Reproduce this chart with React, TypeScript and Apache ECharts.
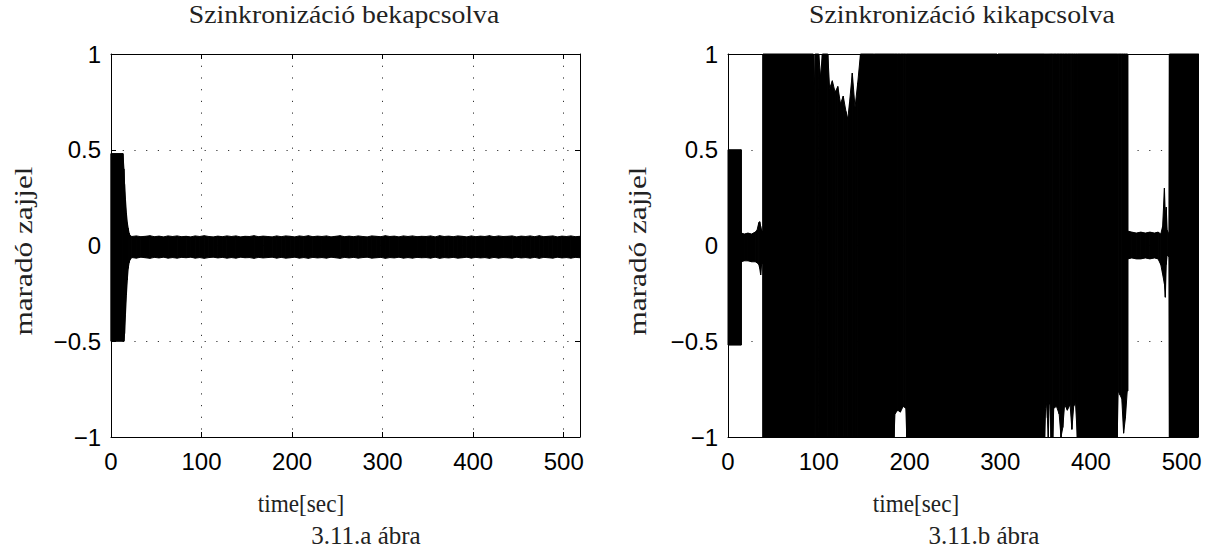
import React, { useEffect, useRef } from "react";
import * as echarts from "echarts";

// ---------- data (envelopes) ----------
const xTickValues = [0, 100, 200, 300, 400, 500];
const yTickValues = [-1, -0.5, 0, 0.5, 1];
const X_MAX = 518;

// Sync ON: time, upper and lower envelope of the residual noise
const onTime = [0, 0.3, 13.2, 14.3, 15, 16, 17, 18, 19, 20, 21,
  23, 28, 33, 38, 43, 48, 53, 58, 63, 68,
  73, 78, 83, 88, 93, 98, 103, 108, 113, 118,
  123, 128, 133, 138, 143, 148, 153, 158, 163, 168,
  173, 178, 183, 188, 193, 198, 203, 208, 213, 218,
  223, 228, 233, 238, 243, 248, 253, 258, 263, 268,
  273, 278, 283, 288, 293, 298, 303, 308, 313, 318,
  323, 328, 333, 338, 343, 348, 353, 358, 363, 368,
  373, 378, 383, 388, 393, 398, 403, 408, 413, 418,
  423, 428, 433, 438, 443, 448, 453, 458, 463, 468,
  473, 478, 483, 488, 493, 498, 503, 508, 513, 518];
const onUpper = [0.48, 0.48, 0.48, 0.4, 0.32, 0.24, 0.17, 0.12, 0.09, 0.065, 0.052,
  0.047, 0.050, 0.046, 0.048, 0.051, 0.046, 0.049, 0.045, 0.050, 0.047,
  0.050, 0.046, 0.048, 0.045, 0.050, 0.047, 0.051, 0.047, 0.045, 0.049,
  0.046, 0.050, 0.047, 0.050, 0.045, 0.048, 0.047, 0.051, 0.046, 0.049,
  0.047, 0.045, 0.050, 0.046, 0.050, 0.048, 0.045, 0.050, 0.047, 0.051,
  0.046, 0.049, 0.047, 0.050, 0.045, 0.048, 0.051, 0.046, 0.049, 0.046,
  0.050, 0.047, 0.045, 0.050, 0.048, 0.046, 0.051, 0.047, 0.049, 0.045,
  0.050, 0.047, 0.050, 0.046, 0.048, 0.047, 0.050, 0.045, 0.051, 0.047,
  0.049, 0.046, 0.050, 0.048, 0.045, 0.050, 0.046, 0.049, 0.047, 0.051,
  0.046, 0.050, 0.047, 0.048, 0.050, 0.045, 0.049, 0.047, 0.050, 0.046,
  0.051, 0.046, 0.048, 0.050, 0.045, 0.049, 0.047, 0.050, 0.046, 0.048];
const onLower = [-0.5, -0.5, -0.5, -0.5, -0.46, -0.36, -0.26, -0.18, -0.12, -0.09, -0.075,
  -0.063, -0.066, -0.061, -0.064, -0.067, -0.062, -0.065, -0.061, -0.066, -0.063,
  -0.066, -0.062, -0.064, -0.061, -0.066, -0.063, -0.067, -0.063, -0.061, -0.065,
  -0.062, -0.066, -0.063, -0.066, -0.061, -0.064, -0.063, -0.067, -0.062, -0.065,
  -0.063, -0.061, -0.066, -0.062, -0.066, -0.064, -0.061, -0.066, -0.063, -0.067,
  -0.062, -0.065, -0.063, -0.066, -0.061, -0.064, -0.067, -0.062, -0.065, -0.062,
  -0.066, -0.063, -0.061, -0.066, -0.064, -0.062, -0.067, -0.063, -0.065, -0.061,
  -0.066, -0.063, -0.066, -0.062, -0.064, -0.063, -0.066, -0.061, -0.067, -0.063,
  -0.065, -0.062, -0.066, -0.064, -0.061, -0.066, -0.062, -0.065, -0.063, -0.067,
  -0.062, -0.066, -0.063, -0.064, -0.066, -0.061, -0.065, -0.063, -0.066, -0.062,
  -0.067, -0.062, -0.064, -0.066, -0.061, -0.065, -0.063, -0.066, -0.062, -0.064];

// Sync OFF
const offTime = [0, 14.5, 14.6, 18, 22, 26, 30, 32, 34, 35, 36, 37, 38.5, 38.6, 94, 95, 96, 100, 102, 104, 110, 112, 115, 118, 121, 124, 127, 130, 132, 134, 137, 140, 143, 146, 160.5, 161, 161.5, 183, 184, 187, 190, 193, 196, 197, 296.5, 297, 297.5, 349, 350, 351, 352, 353, 354, 355, 356, 358, 359, 362, 365, 367, 369, 371, 374, 377, 379, 381, 383, 385, 429, 430, 432, 434, 436, 438, 440, 440.5, 440.6, 445, 450, 455, 460, 465, 470, 474, 477, 479, 481, 482, 483, 484, 486, 486.5, 518];
const offUpper = [0.5, 0.5, 0.065, 0.06, 0.065, 0.06, 0.07, 0.08, 0.12, 0.124, 0.1, 0.08, 0.07, 1, 1, 0.78, 1, 1, 0.88, 1, 1, 0.82, 0.86, 0.8, 0.83, 0.74, 0.78, 0.7, 0.66, 0.75, 0.9, 0.72, 0.85, 1, 1, 1, 1, 1, 1, 1, 1, 1, 1, 1, 1, 0.88, 1, 1, 1, 1, 1, 1, 1, 1, 1, 1, 1, 1, 1, 1, 1, 1, 1, 1, 1, 1, 1, 1, 1, 1, 1, 1, 1, 1, 1, 1, 0.075, 0.07, 0.065, 0.07, 0.065, 0.07, 0.065, 0.07, 0.06, 0.1, 0.3, 0.15, 0.2, 0.08, 0.06, 1, 1];
const offLower = [-0.52, -0.52, -0.085, -0.08, -0.08, -0.085, -0.085, -0.09, -0.1, -0.12, -0.154, -0.1, -0.09, -1, -1, -1, -1, -1, -1, -1, -1, -1, -1, -1, -1, -1, -1, -1, -1, -1, -1, -1, -1, -1, -1, -0.91, -1, -1, -0.88, -0.86, -0.87, -0.84, -0.85, -1, -1, -1, -1, -1, -0.85, -0.82, -0.9, -1, -0.83, -0.82, -1, -1, -0.85, -0.84, -0.88, -1, -0.95, -0.83, -0.86, -0.83, -0.96, -0.84, -0.82, -1, -1, -0.76, -0.78, -0.8, -0.98, -0.9, -0.76, -0.76, -0.07, -0.065, -0.07, -0.07, -0.065, -0.07, -0.065, -0.07, -0.1, -0.15, -0.2, -0.27, -0.1, -0.05, -0.06, -1, -1];

const titles = ["Szinkronizáció bekapcsolva", "Szinkronizáció kikapcsolva"];
const xNames = ["time[sec]", "time[sec]"];
const yNames = ["maradó zajjel", "maradó zajjel"];
const captions = ["3.11.a ábra", "3.11.b ábra"];

// ---------- layout ----------
const grids = [
  { left: 111, top: 54, width: 469, height: 383 },
  { left: 728, top: 54, width: 470, height: 383 },
];
const SANS = "'Liberation Sans', Arial, Helvetica, sans-serif";
const SERIF = "'Liberation Serif', 'Times New Roman', serif";
const SERIF_SIZE = 25;

const fmtY = (v: number) => (v < 0 ? "\u2212" + String(Math.abs(v)) : String(v));

// consecutive envelope samples -> segments [t0, up0, lo0, t1, up1, lo1]
function segments(t: number[], up: number[], lo: number[]) {
  const out: number[][] = [];
  for (let k = 0; k < t.length - 1; k++) {
    out.push([t[k], up[k], lo[k], t[k + 1], up[k + 1], lo[k + 1]]);
  }
  return out;
}

export default function App() {
  const ref = useRef<HTMLDivElement>(null);
  useEffect(() => {
    if (!ref.current) return;
    const chart = echarts.init(ref.current, undefined, { renderer: "svg" });

    const xAxes: any[] = [];
    const yAxes: any[] = [];
    grids.forEach((_, i) => {
      const tick = { show: true, inside: true, length: 5, lineStyle: { color: "#000", width: 1 } };
      const line = { show: true, onZero: false, lineStyle: { color: "#000", width: 1 } };
      const split = { show: true, lineStyle: { color: "#333", width: 1, type: [1.2, 10.5] } };
      xAxes.push({
        type: "value", gridIndex: i, min: 0, max: X_MAX, interval: 100, position: "bottom",
        axisLine: line, axisTick: tick, splitLine: split,
        axisLabel: {
          show: true, color: "#000", fontSize: 24, fontFamily: SANS, margin: 12, showMaxLabel: false,
          formatter: (v: number) => (xTickValues.includes(v) ? String(v) : ""),
        },
      });
      xAxes.push({
        type: "value", gridIndex: i, min: 0, max: X_MAX, interval: 100, position: "top",
        axisLine: line, axisTick: tick, splitLine: { show: false }, axisLabel: { show: false },
      });
      yAxes.push({
        type: "value", gridIndex: i, min: -1, max: 1, interval: 0.5, position: "left",
        axisLine: line, axisTick: tick, splitLine: split,
        axisLabel: {
          show: true, color: "#000", fontSize: 24, fontFamily: SANS, margin: 10,
          formatter: (v: number) => (yTickValues.includes(v) ? fmtY(v) : ""),
        },
      });
      yAxes.push({
        type: "value", gridIndex: i, min: -1, max: 1, interval: 0.5, position: "right",
        axisLine: line, axisTick: tick, splitLine: { show: false }, axisLabel: { show: false },
      });
    });

    const bandSeries = (t: number[], up: number[], lo: number[], i: number) => ({
      type: "custom",
      xAxisIndex: 2 * i,
      yAxisIndex: 2 * i,
      silent: true,
      z: 1,
      encode: { x: [0, 3], y: [1, 2, 4, 5] },
      data: segments(t, up, lo),
      renderItem: (_params: any, api: any) => {
        const a = api.coord([api.value(0), api.value(1)]);
        const b = api.coord([api.value(3), api.value(4)]);
        const c = api.coord([api.value(3), api.value(5)]);
        const d = api.coord([api.value(0), api.value(2)]);
        return {
          type: "polygon",
          shape: { points: [a, b, c, d] },
          style: { fill: "#000", stroke: "#000", lineWidth: 1, lineJoin: "miter" },
        };
      },
    });

    const txt = (text: string, x: number, y: number, sx = 1, rotation = 0) => ({
      type: "text",
      x, y, rotation, scaleX: sx, scaleY: 1,
      style: {
        text, fill: "#222", font: `${SERIF_SIZE}px ${SERIF}`,
        textAlign: "center", textVerticalAlign: "middle",
      },
    });

    chart.setOption({
      animation: false,
      backgroundColor: "#fff",
      grid: grids.map((g) => ({ ...g, show: false, containLabel: false })),
      xAxis: xAxes,
      yAxis: yAxes,
      series: [
        bandSeries(onTime, onUpper, onLower, 0),
        bandSeries(offTime, offUpper, offLower, 1),
      ],
      graphic: [
        txt(titles[0], 344, 14, 1.11),
        txt(titles[1], 962, 14, 1.11),
        txt(xNames[0], 301, 503, 0.93),
        txt(xNames[1], 916, 503, 0.93),
        txt(captions[0], 366, 535),
        txt(captions[1], 984, 535),
        txt(yNames[0], 24, 251, 1.25, Math.PI / 2),
        txt(yNames[1], 638, 251, 1.25, Math.PI / 2),
      ],
    });
    return () => chart.dispose();
  }, []);

  return (
    <div
      ref={ref}
      style={{ position: "fixed", left: 0, top: 0, width: 1216, height: 547, background: "#fff" }}
    />
  );
}
